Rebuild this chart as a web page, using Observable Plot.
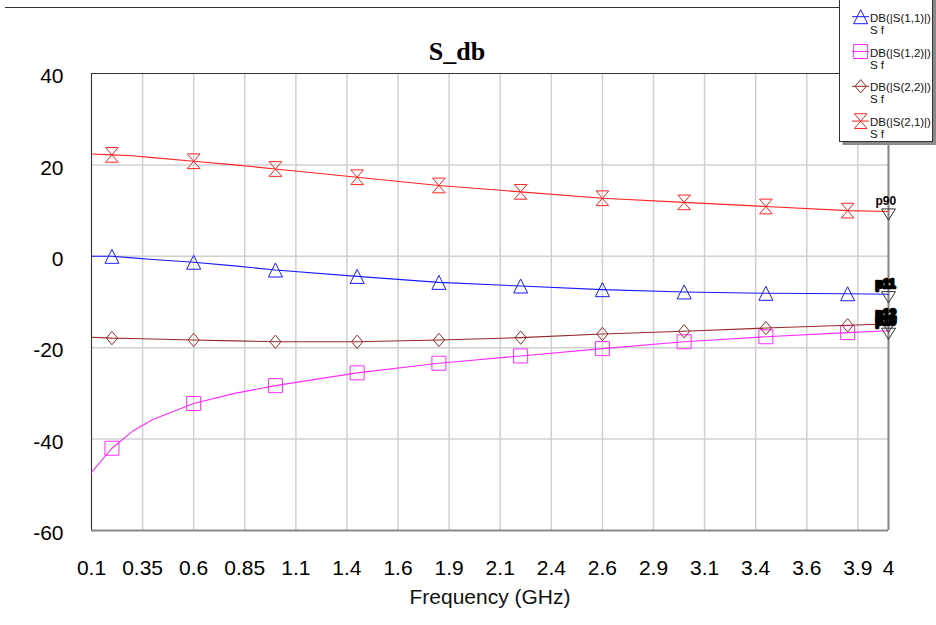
<!DOCTYPE html>
<html>
<head>
<meta charset="utf-8">
<script src="https://cdn.jsdelivr.net/npm/d3@7"></script>
<script src="https://cdn.jsdelivr.net/npm/@observablehq/plot@0.6"></script>
<style>
  html, body { margin: 0; padding: 0; background: #fff; }
  #wrap { position: relative; width: 936px; height: 625px; overflow: hidden; font-family: Arial, "Liberation Sans", sans-serif; }
  #chart { position: absolute; left: 0; top: 0; }
  #topline { position: absolute; left: 5px; top: 7px; width: 834px; height: 0; border-top: 1px solid #333; }
  #legend { position: absolute; left: 838px; top: 0; }
</style>
</head>
<body>
<div id="wrap">
  <div id="chart"></div>
  <div id="topline"></div>
  <div id="legend"></div>
</div>
<script>
// ---- data ----
const freqGHz = [0.1, 0.2, 0.3, 0.4, 0.6, 0.8, 1.0, 1.4, 1.8, 2.2, 2.6, 3.0, 3.4, 3.8, 4.0];
const s11dB = [0.0, 0.0, -0.35, -0.7, -1.3, -2.1, -3.0, -4.4, -5.7, -6.5, -7.3, -7.8, -8.1, -8.2, -8.3];
const s12dB = [-47.3, -42.0, -38.3, -35.7, -32.2, -30.0, -28.3, -25.5, -23.4, -21.8, -20.2, -18.7, -17.6, -16.7, -16.3];
const s22dB = [-17.7, -17.9, -18.0, -18.1, -18.3, -18.5, -18.7, -18.7, -18.3, -17.8, -17.0, -16.4, -15.7, -15.1, -14.8];
const s21dB = [22.4, 22.2, 22.0, 21.6, 20.8, 20.0, 19.1, 17.3, 15.5, 14.1, 12.7, 11.8, 10.9, 10.0, 9.8];
const markerFreqGHz = [0.2, 0.6, 1.0, 1.4, 1.8, 2.2, 2.6, 3.0, 3.4, 3.8];
const seriesNames = ["DB(|S(1,1)|)", "DB(|S(1,2)|)", "DB(|S(2,2)|)", "DB(|S(2,1)|)"];
const seriesSub = ["S f", "S f", "S f", "S f"];
const endLabels = ["p11", "p10", "p12", "p90"];
const xTicks = [0.1, 0.35, 0.6, 0.85, 1.1, 1.35, 1.6, 1.85, 2.1, 2.35, 2.6, 2.85, 3.1, 3.35, 3.6, 3.85, 4];
const xTickLabels = ["0.1", "0.35", "0.6", "0.85", "1.1", "1.4", "1.6", "1.9", "2.1", "2.4", "2.6", "2.9", "3.1", "3.4", "3.6", "3.9", "4"];
const yTicks = [40, 20, 0, -20, -40, -60];
const xDomain = [0.1, 4];
const yDomain = [-60, 40];
const titleText = "S_db";
const xLabelText = "Frequency (GHz)";

// ---- styles ----
const seriesColors = ["#1a1aff", "#ff2bff", "#952a2a", "#ff2424"];

// custom symbols (size = r*r*PI)
const rad = (size) => Math.sqrt(size / Math.PI);
const symTriUp = { draw(c, size) { const s = rad(size); c.moveTo(0, -s); c.lineTo(s, s); c.lineTo(-s, s); c.closePath(); } };
const symSquare = { draw(c, size) { const s = rad(size); c.moveTo(-s, -s); c.lineTo(s, -s); c.lineTo(s, s); c.lineTo(-s, s); c.closePath(); } };
const symDiamond = { draw(c, size) { const s = rad(size); c.moveTo(0, -0.95 * s); c.lineTo(0.8 * s, 0); c.lineTo(0, 0.95 * s); c.lineTo(-0.8 * s, 0); c.closePath(); } };
const symHourglass = { draw(c, size) { const s = rad(size), w = 0.9 * s, h = 1.05 * s; c.moveTo(-w, -h); c.lineTo(w, -h); c.lineTo(-w, h); c.lineTo(w, h); c.closePath(); } };
const symTriDown = { draw(c, size) { const s = rad(size); c.moveTo(-s, -0.8 * s); c.lineTo(s, -0.8 * s); c.lineTo(0, 0.8 * s); c.closePath(); } };
const seriesSymbols = [symTriUp, symSquare, symDiamond, symHourglass];

const seriesValues = [s11dB, s12dB, s22dB, s21dB];
const seriesRows = seriesValues.map((vals, k) => freqGHz.map((f, i) => ({ f, v: vals[i], k })));
const lastRows = seriesRows.map(rows => rows[rows.length - 1]);

const marks = [
  Plot.ruleX(xTicks, { stroke: "#d0d0d0", strokeWidth: 1.5 }),
  Plot.ruleY(yTicks.filter(t => t > yDomain[0] && t < yDomain[1]), { stroke: "#d0d0d0", strokeWidth: 1.5 }),
  Plot.ruleX([xDomain[0]], { stroke: "#333" }),
  Plot.ruleY([yDomain[1]], { stroke: "#333" }),
  Plot.ruleX([xDomain[1]], { stroke: "#888", strokeWidth: 2 }),
  Plot.ruleY([yDomain[0]], { stroke: "#888", strokeWidth: 2 }),
  Plot.axisX(xTicks, { tickSize: 0, tickPadding: 30, fontSize: 21, label: null, tickFormat: d => xTickLabels[xTicks.indexOf(d)] }),
  Plot.axisY(yTicks, { tickSize: 0, tickPadding: 28, fontSize: 21, dy: 3, label: null, tickFormat: d => String(d) }),
  Plot.text([titleText], { frameAnchor: "top", lineAnchor: "middle", dx: -33, dy: -22, fontSize: 26, fontWeight: "bold", fontFamily: "'Liberation Serif', 'Times New Roman', serif", fill: "#000" }),
  Plot.text([xLabelText], { frameAnchor: "bottom", lineAnchor: "middle", dy: 67, fontSize: 21, fill: "#111" })
];
seriesRows.forEach((rows, k) => {
  marks.push(Plot.line(rows, { x: "f", y: "v", stroke: seriesColors[k], strokeWidth: 1.1 }));
  marks.push(Plot.dot(rows.filter(d => markerFreqGHz.includes(d.f)), { x: "f", y: "v", symbol: seriesSymbols[k], r: 7, stroke: seriesColors[k], fill: "none", strokeWidth: 1 }));
});
marks.push(Plot.dot(lastRows, { x: "f", y: "v", symbol: symTriDown, r: 7, dy: 3, stroke: "#333", fill: "none", strokeWidth: 1 }));
marks.push(Plot.text(lastRows.filter(d => d.k !== 3), { x: "f", y: "v", text: d => endLabels[d.k], dx: -13, dy: -10, textAnchor: "start", fontSize: 12, fontWeight: "bold", fill: "#000", stroke: "#000", strokeWidth: 2.5 }));
marks.push(Plot.text(lastRows.filter(d => d.k === 3), { x: "f", y: "v", text: d => endLabels[d.k], dx: -13, dy: -10, textAnchor: "start", fontSize: 12, fontWeight: "bold", fill: "#000" }));

const chart = Plot.plot({
  width: 936,
  height: 625,
  marginLeft: 91,
  marginRight: 48,
  marginTop: 73,
  marginBottom: 95,
  x: { domain: xDomain },
  y: { domain: yDomain },
  style: { fontFamily: "Arial, 'Liberation Sans', sans-serif", background: "white", color: "#000" },
  marks
});
document.getElementById("chart").appendChild(chart);

// ---- legend (top-right box) ----
const lg = d3.select("#legend").append("svg").attr("width", 98).attr("height", 148)
  .style("font-family", "Arial, 'Liberation Sans', sans-serif");
lg.append("rect").attr("x", 4.5).attr("y", -10).attr("width", 95).attr("height", 155).attr("fill", "#8a8a8a");
lg.append("rect").attr("x", 1.5).attr("y", -5).attr("width", 93).attr("height", 146.5).attr("fill", "#fff").attr("stroke", "#333");
seriesNames.forEach((name, k) => {
  const cy = 16.7 + k * 34.8;
  const g = lg.append("g");
  g.append("line").attr("x1", 14).attr("x2", 31).attr("y1", cy).attr("y2", cy).attr("stroke", seriesColors[k]);
  const p = d3.path();
  seriesSymbols[k].draw(p, 7 * 7 * Math.PI);
  g.append("path").attr("d", p.toString()).attr("transform", `translate(22.7,${cy})`).attr("fill", "none").attr("stroke", seriesColors[k]);
  g.append("text").attr("x", 32).attr("y", cy + 5).attr("font-size", 11.5).attr("fill", "#111").text(name);
  g.append("text").attr("x", 32).attr("y", cy + 17).attr("font-size", 11.5).attr("fill", "#111").text(seriesSub[k]);
});
</script>
</body>
</html>
